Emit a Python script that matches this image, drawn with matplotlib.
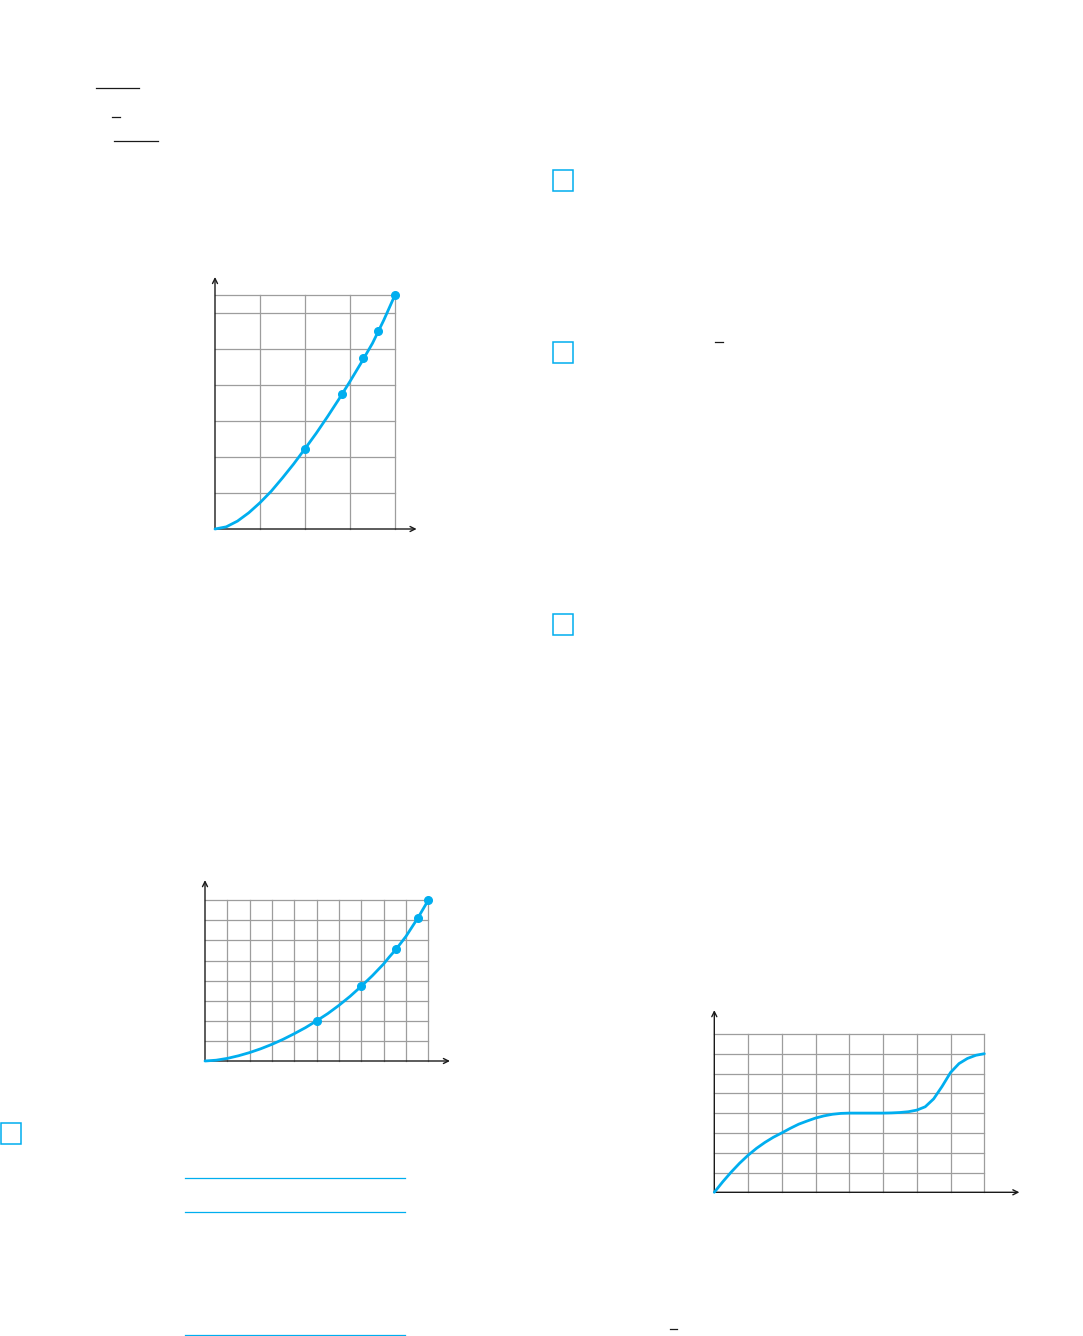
import matplotlib
matplotlib.use("Agg")
import matplotlib.pyplot as plt
from matplotlib.patches import Rectangle

W, H = 1083, 1336
BLUE = "#00aeef"
GRID = "#9d9d9d"

# graph 1 (top left): curve, plus the marked points
g1_x = [0, 0.25, 0.5, 0.75, 1.0, 1.25, 1.5, 1.75, 2.0, 2.25, 2.5, 2.75, 3.0, 3.25, 3.5, 3.75, 4.0]
g1_y = [0, 0.06, 0.22, 0.45, 0.73, 1.05, 1.42, 1.81, 2.23, 2.66, 3.12, 3.6, 4.1, 4.62, 5.16, 5.8, 6.5]
g1_pts_x = [2.0, 2.82, 3.29, 3.62, 4.0]
g1_pts_y = [2.23, 3.75, 4.75, 5.5, 6.5]

# graph 2 (bottom left)
g2_x = [0, 0.5, 1, 1.5, 2, 2.5, 3, 3.5, 4, 4.5, 5, 5.5, 6, 6.5, 7, 7.5, 8, 8.25, 8.55, 9, 9.54, 10]
g2_y = [0, 0.04, 0.13, 0.26, 0.42, 0.61, 0.83, 1.08, 1.36, 1.66, 2.0, 2.36, 2.77, 3.22, 3.72, 4.25, 4.83, 5.17, 5.55, 6.2, 7.13, 8.0]
g2_pts_x = [5, 7, 8.55, 9.54, 10]
g2_pts_y = [2.0, 3.72, 5.55, 7.13, 8.0]

# graph 3 (bottom right)
g3_x = [0, 0.25, 0.5, 0.75, 1, 1.25, 1.5, 1.75, 2, 2.25, 2.5, 2.75, 3, 3.25, 3.5, 3.75, 4,
        4.5, 5, 5.25, 5.5, 5.75, 6, 6.25, 6.5, 6.75, 7, 7.25, 7.5, 7.75, 8]
g3_y = [0, 0.53, 1.02, 1.47, 1.87, 2.22, 2.52, 2.78, 3.0, 3.23, 3.44, 3.6, 3.75, 3.86, 3.94, 3.985, 4.0,
        4.0, 4.0, 4.01, 4.03, 4.07, 4.15, 4.32, 4.72, 5.35, 6.05, 6.5, 6.76, 6.92, 7.0]


def graph_axes(fig, x0, y0, ux, uy, xmax, ymax):
    # x0, y0 = pixel position of the origin; ux, uy = pixels per unit
    w = xmax * ux
    h = ymax * uy
    ax = fig.add_axes([x0 / W, 1 - y0 / H, w / W, h / H])
    ax.set_xlim(0, xmax)
    ax.set_ylim(0, ymax)
    ax.axis("off")
    return ax


def draw_grid(ax, xs, ys, gx, gy, ax_x, ax_y):
    for v in xs:
        ax.plot([v, v], [0, gy], color=GRID, lw=0.9, zorder=1, clip_on=False)
    for v in ys:
        ax.plot([0, gx], [v, v], color=GRID, lw=0.9, zorder=1, clip_on=False)
    arrow = dict(arrowstyle="->", color="#1a1a1a", lw=1.0, shrinkA=0, shrinkB=0,
                 mutation_scale=9)
    ax.annotate("", xy=(ax_x, 0), xytext=(0, 0), arrowprops=arrow, annotation_clip=False)
    ax.annotate("", xy=(0, ax_y), xytext=(0, 0), arrowprops=arrow, annotation_clip=False)


fig = plt.figure(figsize=(W / 100, H / 100), dpi=100)

# page decorations in pixel coordinates
deco = fig.add_axes([0, 0, 1, 1])
deco.set_xlim(0, W)
deco.set_ylim(H, 0)
deco.axis("off")

black_lines = [(96, 139, 88), (112, 120, 117), (114, 158, 141), (715, 723, 342), (670, 677, 1329)]
for xa, xb, y in black_lines:
    deco.plot([xa, xb], [y, y], color="#1a1a1a", lw=0.9)

blue_lines = [(185, 405, 1178), (185, 405, 1212), (185, 405, 1334.5)]
for xa, xb, y in blue_lines:
    deco.plot([xa, xb], [y, y], color=BLUE, lw=0.9)

boxes = [(552.5, 169.5), (552.5, 342), (552.5, 613.5), (0.5, 1122.5)]
for bx, by in boxes:
    deco.add_patch(Rectangle((bx, by), 20, 21, fill=False, edgecolor=BLUE, lw=1.1))

# graph 1
ax1 = graph_axes(fig, 215, 529, 45, 36, 4.6, 7.1)
draw_grid(ax1, [1, 2, 3, 4], [1, 2, 3, 4, 5, 6, 6.5], 4, 6.5, 4.48, 7.0)
ax1.plot(g1_x, g1_y, color=BLUE, lw=2.0, zorder=3, clip_on=False, solid_capstyle="round")
ax1.plot(g1_pts_x, g1_pts_y, "o", color=BLUE, ms=5.5, zorder=4, clip_on=False)

# graph 2
ax2 = graph_axes(fig, 205, 1061, 22.33, 20.1, 11.1, 9.1)
draw_grid(ax2, list(range(1, 11)), list(range(1, 9)), 10, 8, 10.97, 9.0)
ax2.plot(g2_x, g2_y, color=BLUE, lw=2.0, zorder=3, clip_on=False, solid_capstyle="round")
ax2.plot(g2_pts_x, g2_pts_y, "o", color=BLUE, ms=5.5, zorder=4, clip_on=False)

# graph 3
ax3 = graph_axes(fig, 714.3, 1192.3, 33.75, 19.8, 9.15, 9.3)
draw_grid(ax3, list(range(1, 9)), list(range(1, 9)), 8, 8, 9.04, 9.2)
ax3.plot(g3_x, g3_y, color=BLUE, lw=2.0, zorder=3, clip_on=False, solid_capstyle="round")

fig.savefig("out.png", dpi=100)
